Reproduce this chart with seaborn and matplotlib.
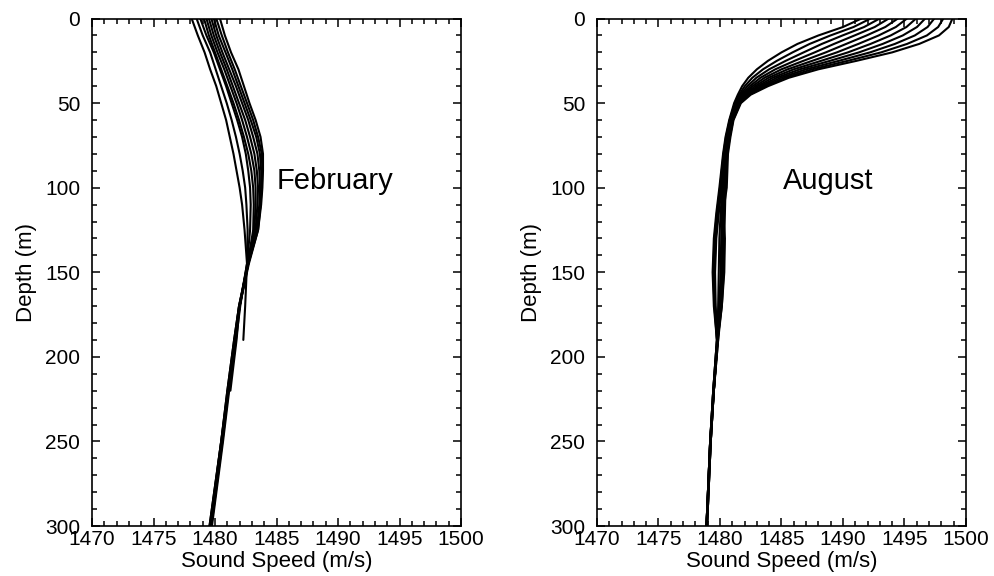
import numpy as np
import pandas as pd
import matplotlib
matplotlib.use("Agg")
import matplotlib.pyplot as plt
import seaborn as sns
from matplotlib.ticker import MultipleLocator

# ---------------- data ----------------
feb_depth = [0, 10, 20, 30, 40, 50, 60, 70, 80, 90, 100, 110, 125, 145, 170, 190, 220, 250, 300]
feb_a = [1478.1, 1478.6, 1479.15, 1479.6, 1480.1, 1480.5, 1480.9, 1481.2, 1481.5, 1481.75, 1482.0, 1482.2, 1482.4, 1482.6, 1482.45, 1482.3, None, None, None]
feb_b = [1478.5, 1479.0, 1479.6, 1480.05, 1480.5, 1480.95, 1481.35, 1481.7, 1482.0, 1482.25, 1482.45, 1482.55, 1482.65, 1482.6, 1482.0, 1481.75, 1481.25, None, None]
feb_c = [1478.8, 1479.3, 1479.9, 1480.4, 1480.9, 1481.35, 1481.8, 1482.2, 1482.5, 1482.7, 1482.85, 1482.9, 1482.85, 1482.6, 1482.05, 1481.7, 1481.15, 1480.65, 1479.75]
feb_d = [1479.1, 1479.5, 1480.0, 1480.5, 1481.0, 1481.5, 1481.95, 1482.35, 1482.7, 1482.95, 1483.1, 1483.15, 1483.1, 1482.65, 1482.0, 1481.65, 1481.1, 1480.6, 1479.7]
feb_e = [1479.3, 1479.7, 1480.2, 1480.75, 1481.25, 1481.75, 1482.2, 1482.6, 1482.95, 1483.2, 1483.3, 1483.3, 1483.2, 1482.65, 1481.95, 1481.6, 1481.05, 1480.55, 1479.65]
feb_f = [1479.5, 1479.9, 1480.4, 1480.95, 1481.45, 1481.95, 1482.45, 1482.85, 1483.2, 1483.4, 1483.5, 1483.45, 1483.3, 1482.7, 1482.0, 1481.6, 1481.05, 1480.55, 1479.6]
feb_g = [1479.7, 1480.1, 1480.6, 1481.15, 1481.7, 1482.2, 1482.7, 1483.1, 1483.45, 1483.6, 1483.65, 1483.6, 1483.4, 1482.7, 1481.95, 1481.55, 1481.0, 1480.5, 1479.6]
feb_h = [1479.9, 1480.3, 1480.85, 1481.4, 1481.9, 1482.4, 1482.9, 1483.35, 1483.65, 1483.75, 1483.75, 1483.7, 1483.45, 1482.7, 1482.0, 1481.6, 1481.05, 1480.5, 1479.55]
feb_i = [1480.1, 1480.55, 1481.05, 1481.6, 1482.1, 1482.6, 1483.1, 1483.5, 1483.8, 1483.85, 1483.8, 1483.7, 1483.5, 1482.7, 1481.95, 1481.55, 1481.0, 1480.5, 1479.55]
feb_j = [1480.4, 1480.8, 1481.3, 1481.9, 1482.35, 1482.8, 1483.3, 1483.7, 1483.9, 1483.9, 1483.85, 1483.75, 1483.5, 1482.75, 1482.0, 1481.6, 1481.05, 1480.55, 1479.6]

aug_depth = [0, 5, 10, 15, 20, 25, 30, 35, 40, 45, 50, 60, 70, 80, 100, 115, 130, 150, 170, 190, 220, 250, 300]
aug_0 = [1491.5, 1490.0, 1488.0, 1486.3, 1485.0, 1483.9, 1483.0, 1482.3, 1481.8, 1481.45, 1481.15, 1480.75, 1480.45, 1480.25, 1479.95, 1479.7, 1479.5, 1479.4, 1479.5, 1479.75, 1479.45, 1479.2, 1478.9]
aug_1 = [1492.24, 1490.86, 1488.98, 1487.29, 1485.9, 1484.62, 1483.5, 1482.63, 1482.01, 1481.56, 1481.21, 1480.79, 1480.49, 1480.29, 1480.0, 1479.75, 1479.55, 1479.45, 1479.55, 1479.75, 1479.45, 1479.2, 1478.9]
aug_2 = [1492.98, 1491.72, 1489.96, 1488.28, 1486.8, 1485.34, 1484.0, 1482.96, 1482.22, 1481.66, 1481.26, 1480.82, 1480.52, 1480.32, 1480.04, 1479.8, 1479.6, 1479.5, 1479.6, 1479.8, 1479.5, 1479.25, 1478.9]
aug_3 = [1493.72, 1492.58, 1490.94, 1489.27, 1487.7, 1486.06, 1484.5, 1483.29, 1482.43, 1481.77, 1481.32, 1480.86, 1480.56, 1480.36, 1480.09, 1479.85, 1479.65, 1479.55, 1479.6, 1479.75, 1479.45, 1479.2, 1478.9]
aug_4 = [1494.46, 1493.44, 1491.92, 1490.26, 1488.6, 1486.78, 1485.0, 1483.62, 1482.64, 1481.87, 1481.37, 1480.89, 1480.59, 1480.39, 1480.13, 1479.9, 1479.7, 1479.6, 1479.65, 1479.8, 1479.5, 1479.25, 1478.95]
aug_5 = [1495.2, 1494.3, 1492.9, 1491.25, 1489.5, 1487.5, 1485.5, 1483.95, 1482.85, 1481.98, 1481.43, 1480.93, 1480.63, 1480.43, 1480.2, 1480.05, 1479.95, 1479.9, 1479.85, 1479.8, 1479.5, 1479.25, 1478.95]
aug_6 = [1495.94, 1495.16, 1493.88, 1492.24, 1490.4, 1488.22, 1486.0, 1484.28, 1483.06, 1482.08, 1481.48, 1480.96, 1480.66, 1480.46, 1480.25, 1480.15, 1480.1, 1480.05, 1479.95, 1479.8, 1479.5, 1479.2, 1478.9]
aug_7 = [1496.68, 1496.02, 1494.86, 1493.23, 1491.3, 1488.94, 1486.5, 1484.61, 1483.27, 1482.19, 1481.54, 1481.0, 1480.7, 1480.5, 1480.3, 1480.2, 1480.2, 1480.15, 1480.05, 1479.85, 1479.5, 1479.25, 1478.95]
aug_8 = [1497.42, 1496.88, 1495.84, 1494.22, 1492.2, 1489.66, 1487.0, 1484.94, 1483.48, 1482.29, 1481.59, 1481.03, 1480.75, 1480.55, 1480.35, 1480.3, 1480.3, 1480.25, 1480.1, 1479.8, 1479.45, 1479.2, 1478.9]
aug_9 = [1498.16, 1497.74, 1496.82, 1495.21, 1493.1, 1490.38, 1487.5, 1485.27, 1483.69, 1482.4, 1481.65, 1481.07, 1480.8, 1480.6, 1480.45, 1480.4, 1480.35, 1480.3, 1480.15, 1479.85, 1479.5, 1479.25, 1478.95]
aug_10 = [1498.9, 1498.6, 1497.8, 1496.2, 1494.0, 1491.1, 1488.0, 1485.6, 1483.9, 1482.5, 1481.7, 1481.1, 1480.85, 1480.65, 1480.55, 1480.25, 1480.4, 1480.35, 1480.15, 1479.8, 1479.5, 1479.2, 1478.9]

feb_profiles = [feb_a, feb_b, feb_c, feb_d, feb_e, feb_f, feb_g, feb_h, feb_i, feb_j]
aug_profiles = [aug_0, aug_1, aug_2, aug_3, aug_4, aug_5, aug_6, aug_7, aug_8, aug_9, aug_10]

x_ticks = [1470, 1475, 1480, 1485, 1490, 1495, 1500]
y_ticks = [0, 50, 100, 150, 200, 250, 300]


def to_long(depth, profiles):
    rows = []
    for k, prof in enumerate(profiles):
        for d, v in zip(depth, prof):
            if v is not None:
                rows.append({"profile": k, "depth": d, "speed": v})
    return pd.DataFrame(rows)


feb_df = to_long(feb_depth, feb_profiles)
aug_df = to_long(aug_depth, aug_profiles)

# ---------------- style ----------------
sns.set_style("white")
plt.rcParams["font.family"] = ["Liberation Sans", "DejaVu Sans"]
plt.rcParams["text.color"] = "black"
plt.rcParams["axes.labelcolor"] = "black"
plt.rcParams["xtick.color"] = "black"
plt.rcParams["ytick.color"] = "black"

fig = plt.figure(figsize=(9.94, 5.76), dpi=100)
ax1 = fig.add_axes([0.0926, 0.0868, 0.3712, 0.881])
ax2 = fig.add_axes([0.6006, 0.0868, 0.3712, 0.881])

for ax, df, label, lx in [(ax1, feb_df, "February", 1485.0), (ax2, aug_df, "August", 1485.15)]:
    sns.lineplot(data=df, x="speed", y="depth", units="profile", estimator=None,
                 sort=False, color="black", linewidth=1.5, ax=ax, legend=False)
    ax.set_xlim(1470, 1500)
    ax.set_ylim(300, 0)
    ax.set_xticks(x_ticks)
    ax.set_yticks(y_ticks)
    ax.xaxis.set_minor_locator(MultipleLocator(1))
    ax.yaxis.set_minor_locator(MultipleLocator(10))
    ax.tick_params(which="both", direction="in", top=True, right=True,
                   bottom=True, left=True, color="black", width=1.1)
    ax.tick_params(which="major", length=6)
    ax.tick_params(which="minor", length=3.5)
    ax.tick_params(axis="x", which="major", labelsize=15, pad=3, labelcolor="black")
    ax.tick_params(axis="y", which="major", labelsize=15, pad=8.5, labelcolor="black")
    for s in ax.spines.values():
        s.set_visible(True)
        s.set_color("black")
        s.set_linewidth(1.2)
    ax.set_xlabel("Sound Speed (m/s)", fontsize=16, labelpad=1, color="black")
    ax.set_ylabel("Depth (m)", fontsize=16, labelpad=6, color="black")
    ax.text(lx, 96, label, fontsize=21, va="center", ha="left", color="black")

fig.savefig("out.png", dpi=100, facecolor="white")
